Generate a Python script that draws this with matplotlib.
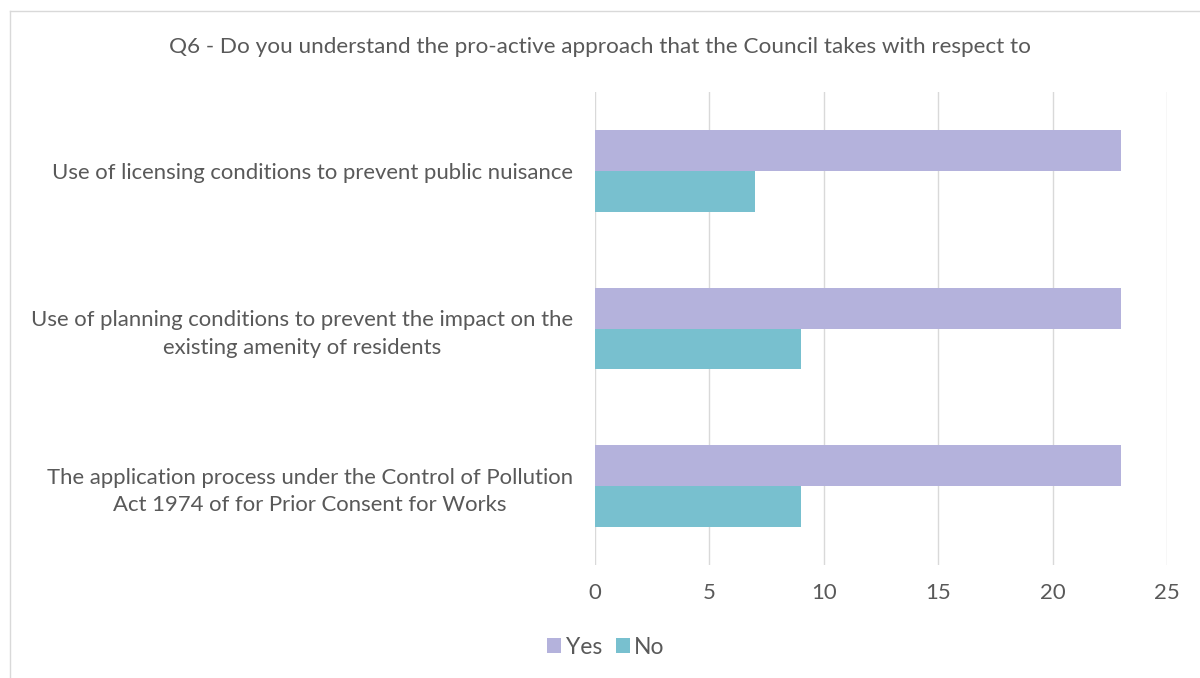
import matplotlib.pyplot as plt
import numpy as np

categories = [
    'Use of licensing conditions to prevent public nuisance',
    'Use of planning conditions to prevent the impact on the\nexisting amenity of residents',
    'The application process under the Control of Pollution\nAct 1974 of for Prior Consent for Works',
]
yes_vals = [23, 23, 23]
no_vals = [7, 9, 9]
xticks = [0, 5, 10, 15, 20, 25]

text_col = '#595959'
plt.rcParams['font.family'] = ['Lato', 'DejaVu Sans']

fig = plt.figure(figsize=(12, 6.78), dpi=100)
ax = fig.add_axes([595/1200, 1 - 565/678, (1167 - 595)/1200, (565 - 92)/678])

y = np.arange(len(categories))
h = 0.26
ax.barh(y - h/2, yes_vals, height=h, color='#B4B2DC', label='Yes', zorder=3)
ax.barh(y + h/2, no_vals, height=h, color='#78C0CF', label='No', zorder=3)

ax.set_ylim(len(categories) - 0.5, -0.5)
ax.set_xlim(0, 25)
ax.set_xticks(xticks)
ax.set_yticks(y)
ax.set_yticklabels(categories, ha='right', multialignment='center', linespacing=1.45,
                   fontsize=15.9, color=text_col)
ax.tick_params(axis='both', length=0, colors=text_col, labelsize=15.9)
ax.tick_params(axis='y', pad=16)
ax.tick_params(axis='x', pad=13)
ax.grid(axis='x', color='#D9D9D9', linewidth=1, zorder=0)
for s in ax.spines.values():
    s.set_visible(False)

fig.text(0.5, 1 - 47/678, 'Q6 - Do you understand the pro-active approach that the Council takes with respect to',
         ha='center', va='center', fontsize=16.2, color=text_col)

fig.legend(loc='center', bbox_to_anchor=(606/1200, 1 - 647/678), ncol=2, frameon=False,
           fontsize=16.5, labelcolor=text_col, handlelength=0.6, handleheight=0.6,
           handletextpad=0.2, columnspacing=0.6)

# chart frame
fig.add_artist(plt.Line2D([10/1200, 10/1200], [0, 1 - 11/678], color='#D9D9D9', lw=1))
fig.add_artist(plt.Line2D([10/1200, 1], [1 - 11/678, 1 - 11/678], color='#D9D9D9', lw=1))

fig.savefig('out.png', dpi=100)
